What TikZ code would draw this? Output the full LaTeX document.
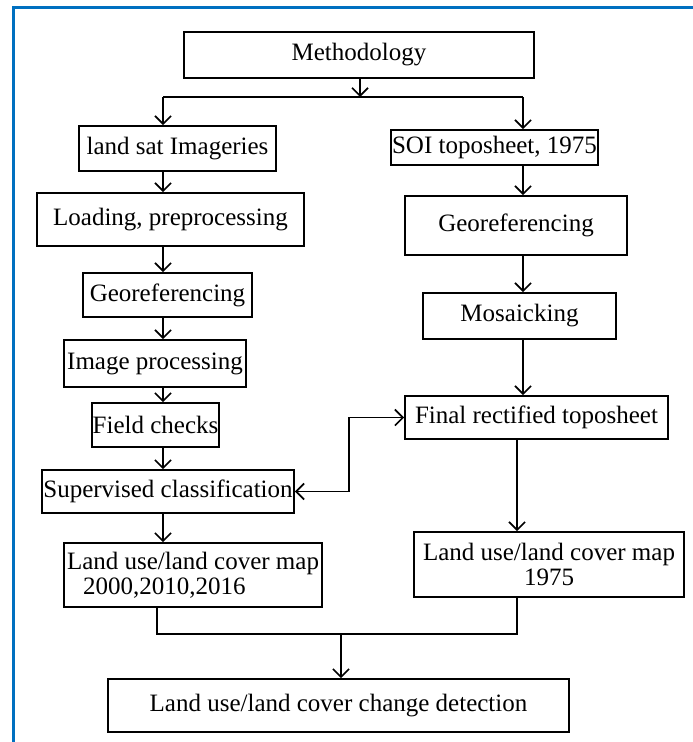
\documentclass[tikz,border=0pt]{standalone}
\usepackage{fontspec}
\setmainfont{Liberation Serif}
\usetikzlibrary{arrows.meta}
\usetikzlibrary{positioning}
\definecolor{framecolor}{RGB}{0,112,192}
\tikzset{
    stage/.style={
           rectangle,
           draw=black, line width=1.7pt,
           inner sep=1pt,
           text centered,
           font=\fontsize{25}{25}\selectfont,
           },
    link/.style={line width=1.7pt},
}

\begin{document}
\begin{tikzpicture}[x=1pt,y=-1pt,link,>={Straight Barb[length=8pt,width=16pt]}]

 % page size and the blue frame (left and top only)
 \useasboundingbox (0,0) rectangle (693,742);
 \draw[framecolor,line width=3pt] (13,742) -- (13,7) -- (693,7);

 % columns of the connectors
 \coordinate (lx) at (163,0);
 \coordinate (rx) at (523,0);
 \coordinate (tx) at (517,0);
 \coordinate (bx) at (349,0);
 \coordinate (jl) at (157,0);
 \coordinate (split) at (360,97);
 \coordinate (join) at (341,634);

 % top box
 \node[stage,minimum width=350pt,minimum height=46pt] (Methodology) at (359,55) {Methodology};

 % left branch: satellite data
 \node[stage,minimum width=197pt,minimum height=45pt] (Land Sat) at (177.5,148.5) {land sat Imageries};
 \node[stage,minimum width=267pt,minimum height=53pt] (Loading) at (170.5,219.5) {Loading, preprocessing};
 \node[stage,minimum width=169pt,minimum height=44pt] (Georef Left) at (167.5,295) {Georeferencing};
 \node[stage,minimum width=182pt,minimum height=47pt] (Image Proc) at (155,363.5) {Image processing};
 \node[stage,minimum width=127pt,minimum height=44pt] (Field Checks) at (155.5,425) {Field checks};
 \node[stage,minimum width=252pt,minimum height=43pt] (Supervised) at (168,491.5) {Supervised classification};
 \node[stage,minimum width=258pt,minimum height=64pt,align=left] (Map Left) at (193,575)
  {Land use/land cover map\\\hspace{16pt}2000,2010,2016};

 % right branch: toposheet
 \node[stage,minimum width=207pt,minimum height=35pt] (Toposheet) at (494.5,147.5) {SOI toposheet, 1975};
 \node[stage,minimum width=222pt,minimum height=59pt] (Georef Right) at (516,225.5) {Georeferencing};
 \node[stage,minimum width=193pt,minimum height=46pt] (Mosaic) at (519.5,316) {Mosaicking};
 \node[stage,minimum width=263pt,minimum height=43pt] (Rectified) at (536.5,417.5) {Final rectified toposheet};
 \node[stage,minimum width=270pt,minimum height=65pt,align=center] (Map Right) at (549,564.5)
  {Land use/land cover map\\1975};

 % bottom box
 \node[stage,minimum width=461pt,minimum height=53pt] (Change) at (338.5,705.5) {Land use/land cover change detection};

 % split into the two branches
 \draw[->] (Methodology.south -| split) -- (split);
 \draw (split -| lx) -- (split -| rx);
 \draw[->] (split -| lx) -- (Land Sat.north -| lx);
 \draw[->] (split -| rx) -- (Toposheet.north -| rx);

 % left chain
 \foreach \from/\to in {Land Sat/Loading, Loading/Georef Left, Georef Left/Image Proc,
   Image Proc/Field Checks, Field Checks/Supervised, Supervised/Map Left}
  \draw[->] (\from.south -| lx) -- (\to.north -| lx);

 % right chain
 \foreach \from/\to in {Toposheet/Georef Right, Georef Right/Mosaic, Mosaic/Rectified}
  \draw[->] (\from.south -| rx) -- (\to.north -| rx);
 \draw[->] (Rectified.south -| tx) -- (Map Right.north -| tx);

 % link between classification and toposheet
 \draw[<->] (Supervised.east) -- (Supervised.east -| bx) -- (Rectified.west -| bx) -- (Rectified.west);

 % both maps into change detection
 \draw (Map Left.south -| jl) -- (jl |- join) -- (tx |- join) -- (Map Right.south -| tx);
 \draw[->] (join) -- (Change.north -| join);

\end{tikzpicture}
\end{document}
